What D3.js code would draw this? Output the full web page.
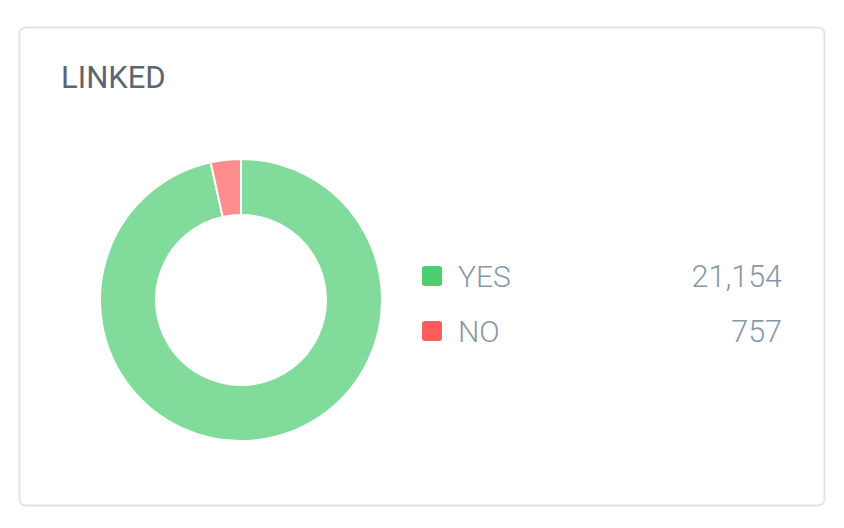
<!DOCTYPE html>
<html><head><meta charset="utf-8">
<script src="https://cdn.jsdelivr.net/npm/d3@7"></script>
<style>html,body{margin:0;padding:0;background:#fff;}</style>
</head><body>
<svg id="chart" width="844" height="528"></svg>
<script>
const title = "LINKED";
const categories = ["YES", "NO"];
const values = [21154, 757];
const colors = ["#4ccd70", "#ff5c5c"];

const svg = d3.select("#chart");
svg.append("rect").attr("x", 19.5).attr("y", 27.5).attr("width", 805).attr("height", 478)
  .attr("rx", 6).attr("fill", "#fff").attr("stroke", "#e4e4e4").attr("stroke-width", 2);

svg.append("text").attr("x", 61).attr("y", 88).text(title)
  .attr("font-family", "Roboto").attr("font-size", 31).attr("fill", "#5b6670");

const data = categories.map((c, i) => ({cat: c, value: values[i], color: colors[i]}));
const pie = d3.pie().sort(null).value(d => d.value);
const arc = d3.arc().innerRadius(85).outerRadius(141);
const g = svg.append("g").attr("transform", "translate(241,300)");
g.selectAll("path").data(pie(data)).join("path")
  .attr("d", arc).attr("fill", d => d.data.color).attr("fill-opacity", 0.7)
  .attr("stroke", "#fff").attr("stroke-width", 2);

const y = d3.scaleBand().domain(categories).range([248, 358]);
const fmt = d3.format(",");
const leg = svg.append("g").selectAll("g").data(data).join("g")
  .attr("transform", d => `translate(0,${y(d.cat)})`);
leg.append("rect").attr("x", 422).attr("y", 18).attr("width", 20).attr("height", 20).attr("rx", 3)
  .attr("fill", d => d.color);
leg.append("text").attr("x", 458).attr("y", 38.5).text(d => d.cat)
  .attr("font-family", "Roboto").attr("font-weight", 300).attr("font-size", 30).attr("fill", "#8797aa");
leg.append("text").attr("x", 782).attr("y", 38.5).attr("text-anchor", "end").text(d => fmt(d.value))
  .attr("font-family", "Roboto").attr("font-weight", 300).attr("font-size", 30.5).attr("fill", "#8797aa");
</script>
</body></html>
